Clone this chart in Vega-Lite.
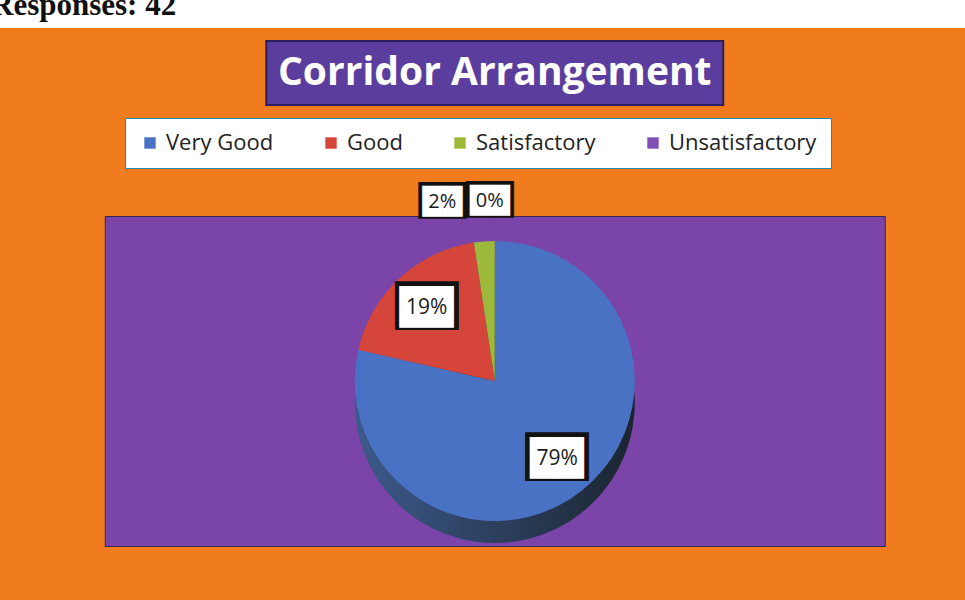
{
  "$schema": "https://vega.github.io/schema/vega-lite/v6.json",
  "background": "#f07c1e",
  "padding": {"left": -17, "top": -10, "right": -42, "bottom": 55},
  "datasets": {
    "responses": [
      {"category": "Very Good", "count": 33, "label": "79%", "idx": 1},
      {"category": "Good", "count": 8, "label": "19%", "idx": 2},
      {"category": "Satisfactory", "count": 1, "label": "2%", "idx": 3},
      {"category": "Unsatisfactory", "count": 0, "label": "0%", "idx": 4}
    ]
  },
  "spacing": 12,
  "bounds": "full",
  "center": true,
  "vconcat": [
    {
      "width": 1024,
      "height": 28,
      "view": {"fill": "#ffffff", "stroke": null},
      "title": {
        "text": "Responses: 42",
        "anchor": "start",
        "frame": "group",
        "font": "Liberation Serif",
        "fontSize": 31,
        "fontWeight": "bold",
        "color": "#111111",
        "dx": 8,
        "offset": -22
      },
      "data": {"values": []},
      "mark": "text"
    },
    {
      "spacing": 111,
      "bounds": "flush",
      "center": true,
      "vconcat": [
        {
          "width": 457,
          "height": 64,
          "view": {"fill": "#5a3d9c", "stroke": "#2e1f5c", "strokeWidth": 2},
          "data": {"values": [{"heading": "Corridor Arrangement"}]},
          "mark": {"type": "text", "font": "Open Sans", "fontWeight": "bold", "fontSize": 39, "color": "#ffffff", "baseline": "middle", "align": "center"},
          "encoding": {"text": {"field": "heading", "type": "nominal"}}
        },
        {
          "width": 780,
          "height": 330,
          "view": {"fill": "#7a44a8", "stroke": "#3a2550", "strokeWidth": 1},
          "data": {"name": "responses"},
          "encoding": {
            "theta": {"field": "count", "type": "quantitative", "stack": true},
            "order": {"field": "idx", "type": "ordinal"}
          },
          "layer": [
            {
              "mark": {
                "type": "arc",
                "radius": 140,
                "yOffset": 22,
                "fill": {"gradient": "linear", "x1": 0, "y1": 0, "x2": 1, "y2": 0,
                  "stops": [{"offset": 0, "color": "#3d5a8c"}, {"offset": 1, "color": "#1b2530"}]}
              }
            },
            {
              "mark": {"type": "arc", "radius": 140},
              "encoding": {
                "color": {
                  "field": "category",
                  "type": "nominal",
                  "scale": {
                    "domain": ["Very Good", "Good", "Satisfactory", "Unsatisfactory"],
                    "range": ["#4a72c4", "#d6453a", "#9cb93a", "#7f4fb5"]
                  },
                  "legend": {
                    "orient": "none",
                    "legendX": 142,
                    "legendY": 118,
                    "direction": "horizontal",
                    "title": null,
                    "fillColor": "#ffffff",
                    "strokeColor": "#1f86b8",
                    "padding": 14,
                    "labelFont": "Open Sans",
                    "labelFontSize": 22,
                    "labelColor": "#222222",
                    "symbolType": "square",
                    "symbolSize": 130,
                    "symbolStrokeWidth": 0,
                    "columnPadding": 46,
                    "labelOffset": 5
                  }
                }
              }
            },
            {
              "mark": {"type": "text", "radius": 100, "font": "DejaVu Sans", "fontSize": 41, "color": "#111111", "baseline": "middle", "align": "center"},
              "encoding": {"text": {"condition": {"test": "datum.idx <= 2", "value": "██"}, "value": ""}}
            },
            {
              "mark": {"type": "text", "radius": 100, "font": "DejaVu Sans", "fontSize": 35, "color": "#ffffff", "baseline": "middle", "align": "center"},
              "encoding": {"text": {"condition": {"test": "datum.idx <= 2", "value": "██"}, "value": ""}}
            },
            {
              "mark": {"type": "text", "radius": 100, "font": "Open Sans", "fontSize": 21, "color": "#1a1a1a", "baseline": "middle", "align": "center"},
              "encoding": {"text": {"condition": {"test": "datum.idx <= 2", "field": "label", "type": "nominal"}, "value": ""}}
            },
            {
              "mark": {"type": "text", "radius": 180, "dx": -39, "font": "DejaVu Sans", "fontSize": 31, "color": "#111111", "baseline": "middle", "align": "center"},
              "encoding": {"text": {"condition": {"test": "datum.idx == 3", "value": "██"}, "value": ""}}
            },
            {
              "mark": {"type": "text", "radius": 180, "dx": -39, "font": "DejaVu Sans", "fontSize": 26, "color": "#ffffff", "baseline": "middle", "align": "center"},
              "encoding": {"text": {"condition": {"test": "datum.idx == 3", "value": "██"}, "value": ""}}
            },
            {
              "mark": {"type": "text", "radius": 180, "dx": -39, "font": "Open Sans", "fontSize": 20, "color": "#1a1a1a", "baseline": "middle", "align": "center"},
              "encoding": {"text": {"condition": {"test": "datum.idx == 3", "field": "label", "type": "nominal"}, "value": ""}}
            },
            {
              "mark": {"type": "text", "radius": 180, "dx": -5, "font": "DejaVu Sans", "fontSize": 31, "color": "#111111", "baseline": "middle", "align": "center"},
              "encoding": {"text": {"condition": {"test": "datum.idx == 4", "value": "██"}, "value": ""}}
            },
            {
              "mark": {"type": "text", "radius": 180, "dx": -5, "font": "DejaVu Sans", "fontSize": 26, "color": "#ffffff", "baseline": "middle", "align": "center"},
              "encoding": {"text": {"condition": {"test": "datum.idx == 4", "value": "██"}, "value": ""}}
            },
            {
              "mark": {"type": "text", "radius": 180, "dx": -5, "font": "Open Sans", "fontSize": 20, "color": "#1a1a1a", "baseline": "middle", "align": "center"},
              "encoding": {"text": {"condition": {"test": "datum.idx == 4", "field": "label", "type": "nominal"}, "value": ""}}
            }
          ]
        }
      ]
    }
  ],
  "config": {"font": "Open Sans"}
}
